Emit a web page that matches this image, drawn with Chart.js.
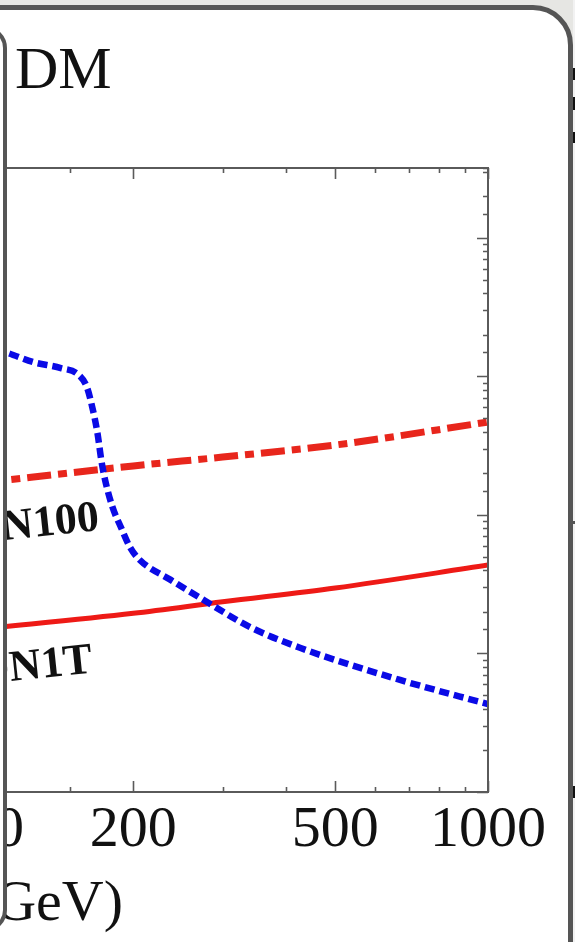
<!DOCTYPE html>
<html>
<head>
<meta charset="utf-8">
<script src="https://cdn.jsdelivr.net/npm/chart.js@4.4.1/dist/chart.umd.min.js"></script>
<style>
  body { margin: 0; width: 575px; height: 942px; overflow: hidden; background: #e6e6e3; position: relative; font-family: "Liberation Serif", serif; }
  #frame { position: absolute; left: -60px; top: 5px; width: 633px; height: 1000px; box-sizing: border-box; border: 5px solid #555; border-radius: 40px; background: #fff; }
  #side { position: absolute; left: 573px; top: 0; width: 2px; height: 942px; background: #f2f2f2; }
  #wrap { position: absolute; left: -560px; top: 0; width: 1135px; height: 942px; }
  #panel { position: absolute; left: -300px; top: 26px; width: 307px; height: 906px; box-sizing: border-box; border: 4px solid #555; border-radius: 22px; background: #fff; }
  #dm { position: absolute; left: 15px; top: 38px; font-size: 60px; line-height: 60px; color: #111; }
  .mark { position: absolute; left: 573px; width: 3px; background: #111; }
</style>
</head>
<body>
<div id="frame"></div>
<div id="side"></div>
<div class="mark" style="top:68px;height:12px"></div>
<div class="mark" style="top:97px;height:13px"></div>
<div class="mark" style="top:132px;height:11px"></div>
<div class="mark" style="top:521px;height:3px;background:#555"></div>
<div class="mark" style="top:786px;height:12px"></div>
<div id="dm">DM</div>
<div id="wrap"><canvas id="Chart-0" width="1135" height="942"></canvas></div>
<div id="panel"></div>
<script>
// x: dark matter mass (GeV), y: cross section (cm^2), both log
const massTicks = [10, 20, 50, 100, 200, 500, 1000]

const xenon100Mass = [100, 200, 300, 500, 1000]
const xenon100Sigma = [1.70e-46, 2.26e-46, 2.62e-46, 3.20e-46, 4.69e-46]

const xenon1tMass = [100, 200, 300, 500, 1000]
const xenon1tSigma = [1.50e-47, 1.95e-47, 2.36e-47, 2.97e-47, 4.35e-47]

const modelMass = [100, 113, 127, 144, 156, 162, 166, 170, 173, 176, 182, 189, 197, 206, 237, 271, 340, 426, 671, 1000]
const modelSigma = [1.69e-45, 1.48e-45, 1.27e-45, 1.15e-45, 1.03e-45, 8.40e-46, 6.03e-46, 3.91e-46, 2.49e-46, 1.79e-46,
                    1.14e-46, 8.19e-47, 5.87e-47, 4.73e-47, 3.40e-47, 2.52e-47, 1.55e-47, 1.10e-47, 6.44e-48, 4.31e-48]

// curve labels: text, anchor mass, anchor sigma (right end of baseline)
const curveLabels = ['XENON100', 'XENON1T']
const labelMass = [172, 167]
const labelSigma = [7.8e-47, 7.3e-48]

const xMin = 10, xMax = 1000
const yMin = 1e-48, yMax = 3.2e-44

function pts(xs, ys){
    return xs.map((x, i) => ({x: x, y: ys[i]}))
}

function isLabelled(v){
    return massTicks.some(t => Math.abs(t - v) < 1e-6 * t)
}

function isDecade(v){
    let l = Math.log10(v)
    return Math.abs(l - Math.round(l)) < 1e-6
}

// box and inward tick marks on all four sides
const boxTicks = {
    id: 'boxTicks',
    afterDatasetsDraw(chart){
        const ctx = chart.ctx
        const a = chart.chartArea
        const xs = chart.scales.x, ys = chart.scales.y
        ctx.save()
        ctx.strokeStyle = '#5a5a5a'
        ctx.lineWidth = 2
        ctx.strokeRect(a.left, a.top, a.right - a.left, a.bottom - a.top)
        ctx.lineWidth = 1.6
        ctx.beginPath()
        xs.ticks.forEach(t => {
            let px = Math.round(xs.getPixelForValue(t.value)) + 0.5
            let len = isLabelled(t.value) ? 11 : 5
            ctx.moveTo(px, a.bottom); ctx.lineTo(px, a.bottom - len)
            ctx.moveTo(px, a.top); ctx.lineTo(px, a.top + len)
        })
        ys.ticks.forEach(t => {
            let py = Math.round(ys.getPixelForValue(t.value)) + 0.5
            let len = isDecade(t.value) ? 11 : 5
            ctx.moveTo(a.right, py); ctx.lineTo(a.right - len, py)
            ctx.moveTo(a.left, py); ctx.lineTo(a.left + len, py)
        })
        ctx.stroke()
        ctx.restore()
    }
}

const curveText = {
    id: 'curveText',
    afterDatasetsDraw(chart){
        const ctx = chart.ctx
        ctx.save()
        ctx.fillStyle = '#111'
        ctx.font = 'bold 44px "Liberation Serif"'
        ctx.textAlign = 'right'
        ctx.textBaseline = 'alphabetic'
        for (let i = 0; i < curveLabels.length; i++) {
            let px = chart.scales.x.getPixelForValue(labelMass[i])
            let py = chart.scales.y.getPixelForValue(labelSigma[i])
            ctx.save()
            ctx.translate(px, py)
            ctx.rotate(-6 * Math.PI / 180)
            ctx.fillText(curveLabels[i], 0, 0)
            ctx.restore()
        }
        ctx.restore()
    }
}

var ctx = document.getElementById('Chart-0').getContext('2d')
var chart = new Chart(ctx, {
    type: 'line',
    data: {
        datasets: [{
            label: 'model',
            data: pts(modelMass, modelSigma),
            borderColor: '#0a0ae6',
            borderWidth: 6.5,
            borderDash: [10, 5],
            borderCapStyle: 'butt',
            pointRadius: 0,
            fill: false,
            cubicInterpolationMode: 'monotone'
        }, {
            label: 'XENON100',
            data: pts(xenon100Mass, xenon100Sigma),
            borderColor: '#e8261c',
            borderWidth: 7,
            borderDash: [24, 7, 9, 7],
            pointRadius: 0,
            fill: false,
            cubicInterpolationMode: 'monotone'
        }, {
            label: 'XENON1T',
            data: pts(xenon1tMass, xenon1tSigma),
            borderColor: '#ee1a16',
            borderWidth: 5,
            pointRadius: 0,
            fill: false,
            cubicInterpolationMode: 'monotone'
        }]
    },
    options: {
        responsive: false,
        animation: false,
        layout: { padding: { top: 168, right: 87, left: 0, bottom: 0 } },
        plugins: {
            legend: { display: false },
            tooltip: { enabled: false }
        },
        scales: {
            x: {
                type: 'logarithmic',
                min: xMin,
                max: xMax,
                grid: { display: false, drawTicks: false },
                border: { display: false },
                ticks: {
                    autoSkip: false,
                    maxRotation: 0,
                    padding: 4,
                    color: '#111',
                    font: { family: 'Liberation Serif', size: 58 },
                    callback: function(v){ return isLabelled(v) ? String(Math.round(v)) : '' }
                },
                title: {
                    display: true,
                    text: 'Mass (GeV)',
                    color: '#111',
                    font: { family: 'Liberation Serif', size: 58 },
                    padding: { top: 0, bottom: 2 }
                },
                afterFit: function(scale){ scale.height = 150 }
            },
            y: {
                type: 'logarithmic',
                min: yMin,
                max: yMax,
                grid: { display: false, drawTicks: false },
                border: { display: false },
                ticks: { display: false },
                afterFit: function(scale){ scale.width = 32 }
            }
        }
    },
    plugins: [boxTicks, curveText]
})
</script>
</body>
</html>
